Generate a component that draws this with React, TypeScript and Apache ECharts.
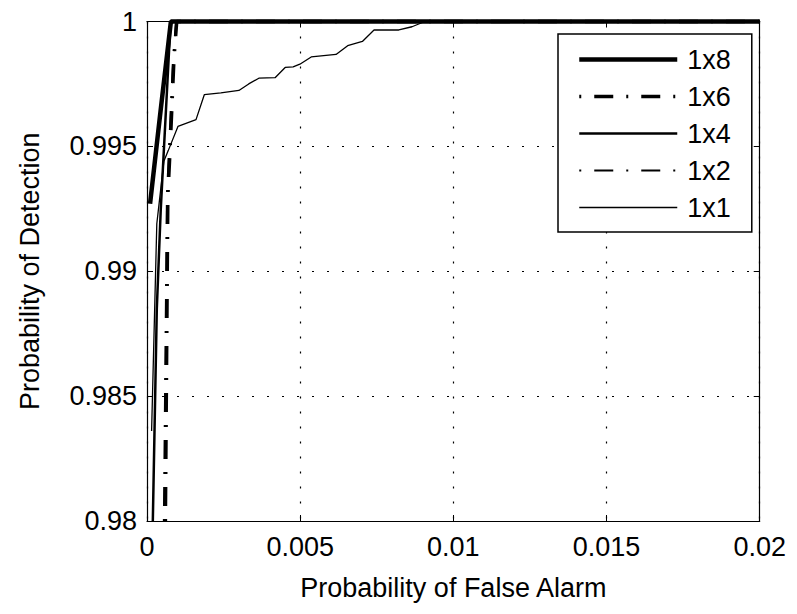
import React, { useEffect, useRef } from "react";
import * as echarts from "echarts";

// Axis ranges / ticks
const xMin = 0;
const xMax = 0.02;
const xStep = 0.005;
const yMin = 0.98;
const yMax = 1;
const yStep = 0.005;

const legendOrder = ["1x8", "1x6", "1x4", "1x2", "1x1"];

// Probability of false alarm (x) and detection (y) for each configuration
const pf1x8 = [0.0001, 0.00045, 0.00078, 0.02];
const pd1x8 = [0.9927, 0.9965, 1.0, 1.0];

const pf1x6 = [0.0006, 0.00068, 0.00075, 0.00088, 0.00097, 0.02];
const pd1x6 = [0.98, 0.993, 0.9948, 0.9985, 1.0, 1.0];

const pf1x4 = [0.00019, 0.00032, 0.00045, 0.00077, 0.02];
const pd1x4 = [0.98, 0.9885, 0.9925, 1.0, 1.0];

const pf1x2 = [0.00055, 0.00065, 0.00085, 0.00095, 0.02];
const pd1x2 = [0.98, 0.993, 0.9985, 1.0, 1.0];

const pf1x1 = [
  0.00015, 0.00032, 0.00055, 0.00069, 0.00101, 0.0016, 0.00187, 0.00241, 0.003,
  0.00332, 0.00365, 0.00418, 0.00451, 0.00477, 0.00499, 0.00536, 0.00617,
  0.00655, 0.00703, 0.00741, 0.00822, 0.00865, 0.00897, 0.0091, 0.02,
];
const pd1x1 = [
  0.9836, 0.9919, 0.9944, 0.99482, 0.9958, 0.99607, 0.99707, 0.99714, 0.99724,
  0.9975, 0.99773, 0.99775, 0.99816, 0.99818, 0.99829, 0.99858, 0.99868,
  0.99903, 0.9992, 0.99966, 0.99966, 0.99979, 0.99995, 1.0, 1.0,
];

const zip = (xs: number[], ys: number[]) => xs.map((x, i) => [x, ys[i]]);

const FONT = "'Liberation Sans', Arial, Helvetica, sans-serif";
const FS = 27;
const dashDot = [2, 13, 19, 13];

const styles: Record<string, { width: number; type: any }> = {
  "1x8": { width: 4.5, type: "solid" },
  "1x6": { width: 3.5, type: dashDot },
  "1x4": { width: 2.5, type: "solid" },
  "1x2": { width: 2, type: dashDot },
  "1x1": { width: 1.3, type: "solid" },
};

export default function App() {
  const ref = useRef<HTMLDivElement>(null);

  useEffect(() => {
    if (!ref.current) return;
    const chart = echarts.init(ref.current, null, { renderer: "svg" });

    const tickInside = { show: true, inside: true, length: 6, lineStyle: { color: "#000", width: 1 } };
    const axisLine = { show: true, onZero: false, lineStyle: { color: "#000", width: 1.2 } };
    const gridDots = { show: true, lineStyle: { color: "#000", width: 1.2, type: [2, 13] as any } };
    const labelStyle = { fontSize: FS, fontFamily: FONT, color: "#000" };

    const mk = (name: string, xs: number[], ys: number[]) => ({
      name,
      type: "line",
      data: zip(xs, ys),
      showSymbol: false,
      symbol: "none",
      clip: false,
      lineStyle: { color: "#000", width: styles[name].width, type: styles[name].type },
      itemStyle: { color: "#000" },
    });

    chart.setOption({
      animation: false,
      backgroundColor: "#fff",
      textStyle: { fontFamily: FONT, color: "#000" },
      grid: { left: 134, right: 27, top: 10, bottom: 78, containLabel: false },
      legend: {
        orient: "vertical",
        left: 550,
        top: 26,
        data: legendOrder.map((n) => ({
          name: n,
          lineStyle: { color: "#000", width: styles[n].width, type: styles[n].type },
          itemStyle: { color: "transparent", borderWidth: 0, opacity: 0 },
        })),
        padding: [12, 21, 11, 19],
        itemGap: 10,
        itemWidth: 98,
        itemHeight: 16,
        borderColor: "#000",
        borderWidth: 1.5,
        borderRadius: 0,
        backgroundColor: "#fff",
        itemStyle: { color: "transparent", borderWidth: 0, opacity: 0 },
        textStyle: { ...labelStyle, padding: [0, 0, 0, 5] },
      },
      xAxis: [
        {
          type: "value",
          min: xMin,
          max: xMax,
          interval: xStep,
          name: "Probability of False Alarm",
          nameLocation: "middle",
          nameGap: 53,
          nameTextStyle: labelStyle,
          axisLine,
          axisTick: tickInside,
          axisLabel: { ...labelStyle, margin: 12 },
          splitLine: gridDots,
        },
        {
          type: "value",
          position: "top",
          min: xMin,
          max: xMax,
          interval: xStep,
          axisLine,
          axisTick: tickInside,
          axisLabel: { show: false },
          splitLine: { show: false },
        },
      ],
      yAxis: [
        {
          type: "value",
          min: yMin,
          max: yMax,
          interval: yStep,
          name: "Probability of Detection",
          nameLocation: "middle",
          nameGap: 104,
          nameTextStyle: labelStyle,
          axisLine,
          axisTick: tickInside,
          axisLabel: { ...labelStyle, margin: 10 },
          splitLine: gridDots,
        },
        {
          type: "value",
          position: "right",
          min: yMin,
          max: yMax,
          interval: yStep,
          axisLine,
          axisTick: tickInside,
          axisLabel: { show: false },
          splitLine: { show: false },
        },
      ],
      series: [
        mk("1x1", pf1x1, pd1x1),
        mk("1x2", pf1x2, pd1x2),
        mk("1x4", pf1x4, pd1x4),
        mk("1x6", pf1x6, pd1x6),
        mk("1x8", pf1x8, pd1x8),
      ],
    });

    return () => chart.dispose();
  }, []);

  return <div ref={ref} style={{ width: 781, height: 598 }} />;
}
